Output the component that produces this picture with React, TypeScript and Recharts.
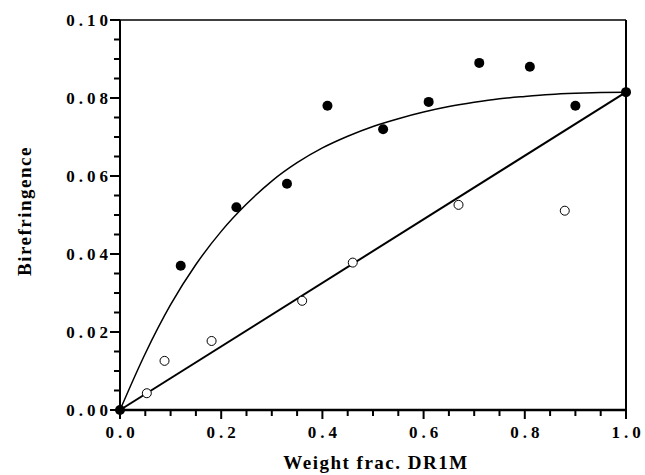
import { ComposedChart, XAxis, YAxis, Scatter, Line, ReferenceLine } from "recharts";

// filled circles
const filledX = [0, 0.12, 0.23, 0.33, 0.41, 0.52, 0.61, 0.71, 0.81, 0.9, 1.0];
const filledY = [0, 0.037, 0.052, 0.058, 0.078, 0.072, 0.079, 0.089, 0.088, 0.078, 0.0815];

// open circles
const openX = [0.053, 0.088, 0.181, 0.36, 0.46, 0.669, 0.879];
const openY = [0.0043, 0.0126, 0.0177, 0.028, 0.0378, 0.0526, 0.0511];

// saturating fit curve through the filled points
const curveX = [0, 0.05, 0.1, 0.15, 0.2, 0.25, 0.3, 0.35, 0.4, 0.45, 0.5, 0.55, 0.6, 0.65, 0.7, 0.75, 0.8, 0.85, 0.9, 0.95, 1.0];
const curveY = [
  0, 0.0145, 0.027, 0.0373, 0.0458, 0.0528, 0.0587, 0.0634, 0.0672, 0.0702, 0.0727, 0.0747, 0.0764,
  0.0778, 0.0789, 0.0798, 0.0804, 0.0809, 0.0812, 0.0814, 0.0815,
];

// straight line from origin to pure DR1M
const lineX = [0, 1.0];
const lineY = [0, 0.0815];

const xTicks = [0, 0.05, 0.1, 0.15, 0.2, 0.25, 0.3, 0.35, 0.4, 0.45, 0.5, 0.55, 0.6, 0.65, 0.7, 0.75, 0.8, 0.85, 0.9, 0.95, 1.0];
const yTicks = [0, 0.005, 0.01, 0.015, 0.02, 0.025, 0.03, 0.035, 0.04, 0.045, 0.05, 0.055, 0.06, 0.065, 0.07, 0.075, 0.08, 0.085, 0.09, 0.095, 0.1];

const toPoints = (xs: number[], ys: number[]) => xs.map((x, i) => ({ x, y: ys[i] }));

const filledData = toPoints(filledX, filledY);
const openData = toPoints(openX, openY);
const curveData = toPoints(curveX, curveY);
const lineData = toPoints(lineX, lineY);

const FONT = '"Liberation Serif", "Times New Roman", serif';

const XTick = ({ x, y, payload }: any) => {
  const v = payload.value as number;
  const major = Math.round(v * 100) % 20 === 0;
  return (
    <g>
      <line x1={x} x2={x} y1={y} y2={y + (major ? 9 : 6)} stroke="#000" strokeWidth={2} />
      {major && (
        <text
          x={x}
          y={y + 28}
          dx={2}
          textAnchor="middle"
          fontFamily={FONT}
          fontWeight="bold"
          fontSize={17}
          letterSpacing={4}
          fill="#000"
        >
          {v.toFixed(1)}
        </text>
      )}
    </g>
  );
};

const YTick = ({ x, y, payload }: any) => {
  const v = payload.value as number;
  const major = Math.round(v * 1000) % 20 === 0;
  return (
    <g>
      <line x1={x} x2={x - (major ? 10 : 6)} y1={y} y2={y} stroke="#000" strokeWidth={2} />
      {major && (
        <text
          x={x - 12}
          y={y + 6}
          dx={4}
          textAnchor="end"
          fontFamily={FONT}
          fontWeight="bold"
          fontSize={17}
          letterSpacing={4}
          fill="#000"
        >
          {v.toFixed(2)}
        </text>
      )}
    </g>
  );
};

const XTitle = () => (
  <text
    x={376}
    y={469}
    textAnchor="middle"
    fontFamily={FONT}
    fontWeight="bold"
    fontSize={19}
    letterSpacing={1.5}
    fill="#000"
  >
    Weight frac. DR1M
  </text>
);

const YTitle = () => (
  <text
    x={0}
    y={0}
    transform="translate(31, 211) rotate(-90)"
    textAnchor="middle"
    fontFamily={FONT}
    fontWeight="bold"
    fontSize={19}
    letterSpacing={1.5}
    fill="#000"
  >
    Birefringence
  </text>
);

const FilledDot = (p: any) => <circle cx={p.cx} cy={p.cy} r={5} fill="#000" />;
const OpenDot = (p: any) => <circle cx={p.cx} cy={p.cy} r={4.5} fill="#fff" stroke="#000" strokeWidth={1} />;

export default function App() {
  return (
    <div style={{ position: "absolute", left: 0, top: 0, background: "#fff" }}>
      <ComposedChart width={645} height={475} margin={{ top: 20, right: 19, bottom: 0, left: 0 }}>
        <XAxis
          type="number"
          dataKey="x"
          domain={[0, 1]}
          ticks={xTicks}
          interval={0}
          height={65}
          tickSize={0}
          tickMargin={0}
          tickLine={false}
          tick={<XTick />}
          axisLine={{ stroke: "#000", strokeWidth: 2.5 }}
          label={<XTitle />}
        />
        <YAxis
          type="number"
          dataKey="y"
          domain={[0, 0.1]}
          ticks={yTicks}
          interval={0}
          width={120}
          tickSize={0}
          tickMargin={0}
          tickLine={false}
          tick={<YTick />}
          axisLine={{ stroke: "#000", strokeWidth: 2 }}
          label={<YTitle />}
        />
        <ReferenceLine y={0.1} stroke="#000" strokeWidth={1.5} />
        <ReferenceLine x={1} stroke="#000" strokeWidth={2} />
        <Line
          data={curveData}
          dataKey="y"
          type="monotone"
          stroke="#000"
          strokeWidth={1.5}
          dot={false}
          isAnimationActive={false}
        />
        <Line
          data={lineData}
          dataKey="y"
          type="linear"
          stroke="#000"
          strokeWidth={2}
          dot={false}
          isAnimationActive={false}
        />
        <Scatter data={openData} dataKey="y" shape={<OpenDot />} isAnimationActive={false} />
        <Scatter data={filledData} dataKey="y" shape={<FilledDot />} isAnimationActive={false} />
      </ComposedChart>
    </div>
  );
}
